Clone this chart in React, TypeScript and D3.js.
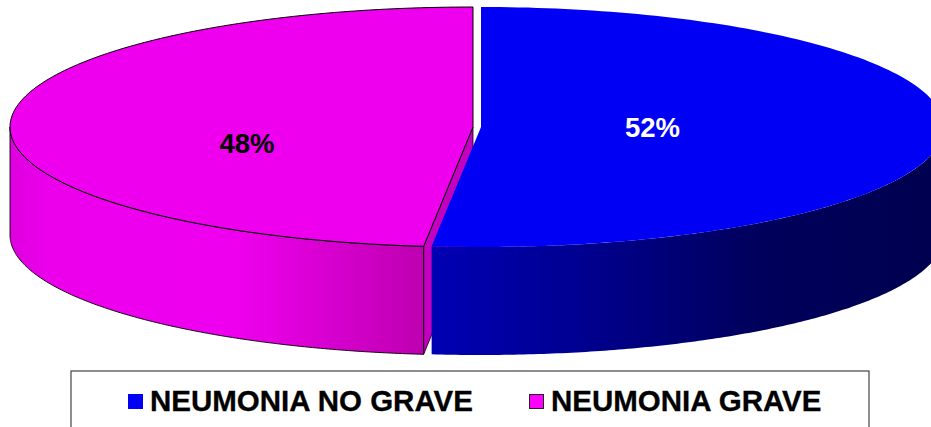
import React from "react";
import * as d3 from "d3";

const categories = ["NEUMONIA NO GRAVE", "NEUMONIA GRAVE"];
const seriesValues = [51.7, 48.3];
const percentLabels = ["52%", "48%"];

const W = 931, H = 427;
const RX = 463, RY = 120, DEPTH = 108, CY = 127;
const CENTERS = [481, 473];
const TOP = ["#0000f4", "#ee00ee"];
const FONT = "'Liberation Sans', Arial, sans-serif";

const pieGen = d3.pie<number>().sort(null).value((d) => d);
const arcs = pieGen(seriesValues);

function yScale(offset: number) {
  return d3.scaleLinear().domain([-1, 1]).range([CY + offset + RY, CY + offset - RY]);
}
function xScale(cx: number) {
  return d3.scaleLinear().domain([-1, 1]).range([cx - RX, cx + RX]);
}
const lineGen = d3.line<[number, number]>().x((d) => d[0]).y((d) => d[1]);

function arcPts(cx: number, a0: number, a1: number, offset = 0): [number, number][] {
  const sx = xScale(cx), sy = yScale(offset);
  const n = 160;
  return d3.range(n + 1).map((i) => {
    const a = a0 + ((a1 - a0) * i) / n;
    return [sx(Math.sin(a)), sy(Math.cos(a))] as [number, number];
  });
}

const blue = arcs[0], mag = arcs[1];
const cxB = CENTERS[0], cxM = CENTERS[1];

const blueTop = lineGen([[cxB, CY], ...arcPts(cxB, blue.startAngle, blue.endAngle)]) + "Z";
const magTop = lineGen([[cxM, CY], ...arcPts(cxM, mag.startAngle, mag.endAngle)]) + "Z";

const blueSide = lineGen([
  ...arcPts(cxB, Math.PI / 2, blue.endAngle),
  ...arcPts(cxB, blue.endAngle, Math.PI / 2, DEPTH),
]) + "Z";
const magSide = lineGen([
  ...arcPts(cxM, mag.startAngle, (3 * Math.PI) / 2),
  ...arcPts(cxM, (3 * Math.PI) / 2, mag.startAngle, DEPTH),
]) + "Z";

const magEdge = arcPts(cxM, mag.startAngle, mag.startAngle, 0)[0];
const magFace = lineGen([
  [cxM, CY],
  magEdge,
  [magEdge[0], magEdge[1] + DEPTH],
  [cxM, CY + DEPTH],
]) + "Z";

export default function App() {
  return (
    <svg
      width={W}
      height={H}
      viewBox={`0 0 ${W} ${H}`}
      style={{ position: "absolute", left: 0, top: 0, background: "#fff" }}
    >
      <defs>
        <linearGradient id="magSide" gradientUnits="userSpaceOnUse" x1={10} x2={423} y1={0} y2={0}>
          <stop offset="0" stopColor="#de00de" />
          <stop offset="0.1" stopColor="#ec00ec" />
          <stop offset="0.55" stopColor="#ee00ee" />
          <stop offset="1" stopColor="#be00b0" />
        </linearGradient>
        <linearGradient id="blueSide" gradientUnits="userSpaceOnUse" x1={431} x2={931} y1={0} y2={0}>
          <stop offset="0" stopColor="#0000b4" />
          <stop offset="0.3" stopColor="#000090" />
          <stop offset="0.65" stopColor="#00005c" />
          <stop offset="1" stopColor="#000050" />
        </linearGradient>
      </defs>

      <path d={magFace} fill="#c400c0" stroke="#000" strokeWidth={0.8} strokeLinejoin="round" />
      <path d={magSide} fill="url(#magSide)" stroke="#000" strokeWidth={0.9} strokeLinejoin="round" />
      <path d={magTop} fill={TOP[1]} stroke="#000" strokeWidth={1} strokeLinejoin="round" />
      <path d={blueSide} fill="url(#blueSide)" />
      <path d={blueTop} fill={TOP[0]} />

      <text x={652.5} y={137} textAnchor="middle" fontFamily={FONT} fontWeight="bold" fontSize={27.5} fill="#fff">
        {percentLabels[0]}
      </text>
      <text x={247} y={153} textAnchor="middle" fontFamily={FONT} fontWeight="bold" fontSize={27.5} fill="#000">
        {percentLabels[1]}
      </text>

      <rect x={71} y={371} width={798} height={70} fill="#fff" stroke="#444" strokeWidth={1.2} />
      <rect x={128} y={394} width={15} height={15} fill={TOP[0]} />
      <text x={150} y={411} fontFamily={FONT} fontWeight="bold" fontSize={29.5} fill="#000" stroke="#000" strokeWidth={0.3}>
        {categories[0]}
      </text>
      <rect x={529.5} y={394.5} width={14} height={14} fill="#ff00ff" stroke="#222" strokeWidth={1} />
      <text x={551} y={411} fontFamily={FONT} fontWeight="bold" fontSize={29.5} fill="#000" stroke="#000" strokeWidth={0.3}>
        {categories[1]}
      </text>
    </svg>
  );
}
